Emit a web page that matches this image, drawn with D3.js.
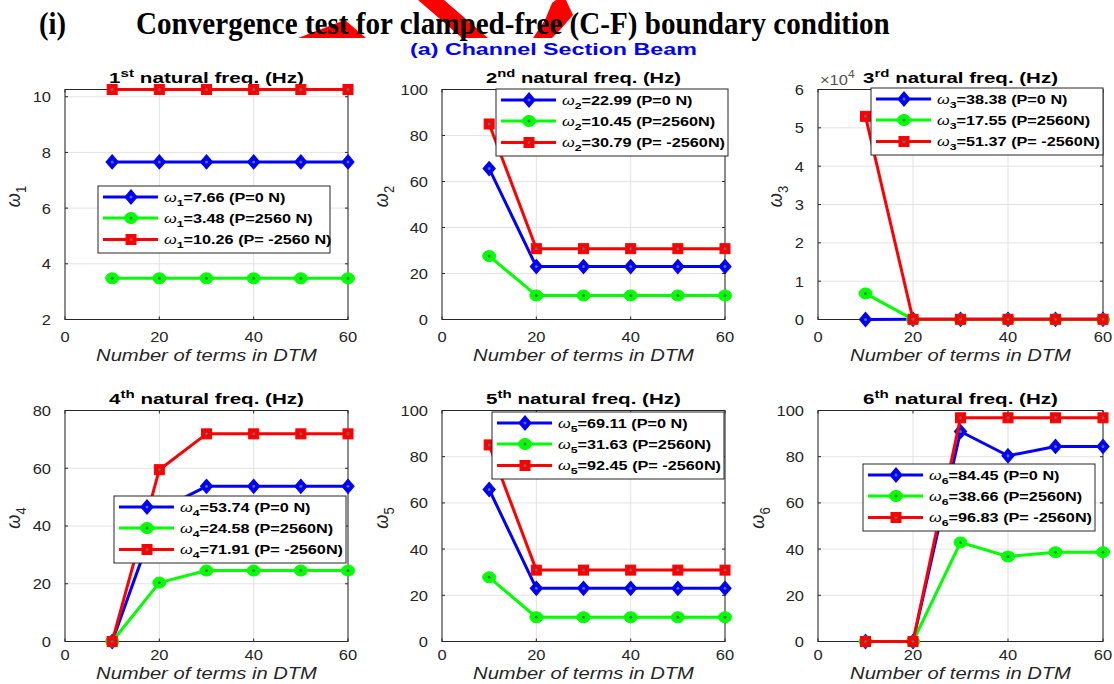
<!DOCTYPE html>
<html>
<head>
<meta charset="utf-8">
<script src="https://cdn.jsdelivr.net/npm/d3@7"></script>
<style>
  body { margin: 0; background: #fff; }
  svg { display: block; }
</style>
</head>
<body>
<svg id="chart" width="1114" height="684"></svg>
<script>
// number of terms used in DTM
var terms = [10, 20, 30, 40, 50, 60];
var xTicks = [0, 20, 40, 60];

// plotted frequencies, P = 0, P = 2560 N (tension), P = -2560 N (compression)
var w1P0 = [7.66, 7.66, 7.66, 7.66, 7.66, 7.66];
var w1Pt = [3.48, 3.48, 3.48, 3.48, 3.48, 3.48];
var w1Pc = [10.26, 10.26, 10.26, 10.26, 10.26, 10.26];

var w2P0 = [65.6, 22.99, 22.99, 22.99, 22.99, 22.99];
var w2Pt = [27.6, 10.45, 10.45, 10.45, 10.45, 10.45];
var w2Pc = [85.0, 30.79, 30.79, 30.79, 30.79, 30.79];

var w3P0 = [0, 38.38, 38.38, 38.38, 38.38, 38.38];
var w3Pt = [6800, 17.55, 17.55, 17.55, 17.55, 17.55];
var w3Pc = [53000, 51.37, 51.37, 51.37, 51.37, 51.37];

var w4P0 = [0, 45.5, 53.74, 53.74, 53.74, 53.74];
var w4Pt = [0, 20.4, 24.58, 24.58, 24.58, 24.58];
var w4Pc = [0, 59.5, 71.91, 71.91, 71.91, 71.91];

var w5P0 = [65.8, 23.0, 23.0, 23.0, 23.0, 23.0];
var w5Pt = [27.8, 10.5, 10.5, 10.5, 10.5, 10.5];
var w5Pc = [85.1, 30.9, 30.9, 30.9, 30.9, 30.9];

var w6P0 = [0, 0, 90.9, 80.4, 84.45, 84.45];
var w6Pt = [0, 0, 42.9, 36.8, 38.66, 38.66];
var w6Pc = [0, 0, 96.83, 96.83, 96.83, 96.83];

// legend values
var legP0 = [7.66, 22.99, 38.38, 53.74, 69.11, 84.45];
var legPt = [3.48, 10.45, 17.55, 24.58, 31.63, 38.66];
var legPc = [10.26, 30.79, 51.37, 71.91, 92.45, 96.83];
var loadTextFirst = ["P=0 N", "P=2560 N", "P= -2560 N"];
var loadText = ["P=0 N", "P=2560N", "P= -2560N"];
var ordinals = ["st", "nd", "rd", "th", "th", "th"];

// y axes
var yDomains = [[2, 10.26], [0, 100], [0, 60000], [0, 80], [0, 100], [0, 100]];
var yTicks = [
  [2, 4, 6, 8, 10],
  [0, 20, 40, 60, 80, 100],
  [0, 10000, 20000, 30000, 40000, 50000, 60000],
  [0, 20, 40, 60, 80],
  [0, 20, 40, 60, 80, 100],
  [0, 20, 40, 60, 80, 100]
];

var seriesP0 = [w1P0, w2P0, w3P0, w4P0, w5P0, w6P0];
var seriesPt = [w1Pt, w2Pt, w3Pt, w4Pt, w5Pt, w6Pt];
var seriesPc = [w1Pc, w2Pc, w3Pc, w4Pc, w5Pc, w6Pc];

// layout
var colLeft = [65, 442, 818], colRight = [348, 725, 1103];
var rowTop = [89.5, 410.5], rowBottom = [319.5, 641.5];
var xTickY = [342, 660], xLabelY = [361, 679];
var legendPos = [[98, 186], [496, 89], [871, 88], [114, 496], [492, 412], [863, 464]];
var legendW = 232, legendH = 67;

var axisColor = "#262626";
var sansFont = "'Liberation Sans', Arial, sans-serif";
var colors = ["#0000ff", "#00ff00", "#ff0000"];

var svg = d3.select("#chart");
svg.append("rect").attr("width", 1114).attr("height", 684).attr("fill", "#fff");

function fitText(parent, x, y, target, anchor, build) {
  var g = parent.append("g");
  var t = g.append("text").attr("text-anchor", anchor);
  build(t);
  var w = t.node().getComputedTextLength();
  g.attr("transform", "translate(" + x + "," + y + ") scale(" + (target / w) + ",1)");
  return t;
}

function stretchText(parent, x, y, sx, anchor) {
  return parent.append("g")
    .attr("transform", "translate(" + x + "," + y + ") scale(" + sx + ",1)")
    .append("text").attr("text-anchor", anchor);
}

function drawMarker(g, kind, cx, cy) {
  if (kind == 0) {
    g.append("path")
      .attr("d", "M" + cx + "," + (cy - 7) + "L" + (cx + 6) + "," + cy + "L" + cx + "," + (cy + 7) + "L" + (cx - 6) + "," + cy + "Z")
      .attr("fill", "#0000ff").attr("stroke", "#0000ff").attr("stroke-width", 1.2);
  } else if (kind == 1) {
    g.append("ellipse").attr("cx", cx).attr("cy", cy).attr("rx", 6.5).attr("ry", 5.5)
      .attr("fill", "#00ff00").attr("stroke", "#00ff00").attr("stroke-width", 1);
  } else {
    g.append("rect").attr("x", cx - 5).attr("y", cy - 5).attr("width", 10).attr("height", 10)
      .attr("fill", "#ff0000").attr("stroke", "#ff0000").attr("stroke-width", 1);
  }
  g.append("circle").attr("cx", cx).attr("cy", cy).attr("r", 1.5).attr("fill", "#5d6f70");
}

// red scribble behind the heading
var scribbles = [
  [[298, 38], [345, 20], [366, 38]],
  [[418, 0], [444, 0], [488, 38], [462, 38]],
  [[533, 38], [545, 20], [552, 3], [556, 0], [566, 0], [573, 15], [560, 30], [552, 38]]
];
svg.selectAll("polygon.scribble").data(scribbles).enter().append("polygon")
  .attr("class", "scribble")
  .attr("points", function(d) { return d.map(function(p) { return p.join(","); }).join(" "); })
  .attr("fill", "#ff0000");

// heading
fitText(svg, 39, 34, 27, "start", function(t) {
  t.attr("font-family", "'Liberation Serif', 'Times New Roman', serif").attr("font-weight", "bold")
    .attr("font-size", 32).attr("fill", "#000").text("(i)");
});
fitText(svg, 136, 34, 754, "start", function(t) {
  t.attr("font-family", "'Liberation Serif', 'Times New Roman', serif").attr("font-weight", "bold")
    .attr("font-size", 32).attr("fill", "#000").text("Convergence test for clamped-free (C-F) boundary condition");
});
fitText(svg, 410, 55, 287, "start", function(t) {
  t.attr("font-family", sansFont).attr("font-weight", "bold")
    .attr("font-size", 16.5).attr("fill", "#0000ff").text("(a) Channel Section Beam");
});

function drawPanel(k) {
  var col = k % 3, row = Math.floor(k / 3);
  var x0 = colLeft[col], x1 = colRight[col];
  var y0 = rowTop[row], y1 = rowBottom[row];
  var cx = (x0 + x1) / 2;

  var x = d3.scaleLinear().domain([0, 60]).range([x0, x1]);
  var y = d3.scaleLinear().domain(yDomains[k]).range([y1, y0]);
  var g = svg.append("g");

  // grid
  g.selectAll("line.gx").data(xTicks).enter().append("line")
    .attr("x1", function(d) { return x(d); }).attr("x2", function(d) { return x(d); })
    .attr("y1", y0).attr("y2", y1)
    .attr("stroke", "#e3e3e3").attr("stroke-width", 1);
  g.selectAll("line.gy").data(yTicks[k]).enter().append("line")
    .attr("y1", function(d) { return y(d); }).attr("y2", function(d) { return y(d); })
    .attr("x1", x0).attr("x2", x1)
    .attr("stroke", "#e3e3e3").attr("stroke-width", 1);

  // box
  g.append("rect").attr("x", x0).attr("y", y0)
    .attr("width", x1 - x0).attr("height", y1 - y0)
    .attr("fill", "none").attr("stroke", axisColor).attr("stroke-width", 1);

  // ticks and labels
  xTicks.forEach(function(v) {
    g.append("line").attr("x1", x(v)).attr("x2", x(v)).attr("y1", y1).attr("y2", y1 - 3).attr("stroke", axisColor);
    g.append("line").attr("x1", x(v)).attr("x2", x(v)).attr("y1", y0).attr("y2", y0 + 3).attr("stroke", axisColor);
    stretchText(g, x(v), xTickY[row], 1.1, "middle")
      .attr("font-family", sansFont).attr("font-size", 15).attr("fill", axisColor).text(v);
  });
  var maxDigits = 0;
  yTicks[k].forEach(function(v) {
    g.append("line").attr("x1", x0).attr("x2", x0 + 3).attr("y1", y(v)).attr("y2", y(v)).attr("stroke", axisColor);
    g.append("line").attr("x1", x1).attr("x2", x1 - 3).attr("y1", y(v)).attr("y2", y(v)).attr("stroke", axisColor);
    var label = k == 2 ? String(v / 10000) : String(v);
    maxDigits = Math.max(maxDigits, label.length);
    stretchText(g, x0 - 14, y(v), 1.1, "end")
      .attr("dy", "0.36em")
      .attr("font-family", sansFont).attr("font-size", 15).attr("fill", axisColor).text(label);
  });

  if (k == 2) {
    var ex = stretchText(g, x0 + 2, y0 - 5, 1.1, "start")
      .attr("font-family", sansFont).attr("font-size", 15).attr("fill", "#555");
    ex.append("tspan").text("\u00d710");
    ex.append("tspan").attr("dy", -7).attr("font-size", 11).text("4");
  }

  // y label
  var yl = g.append("g")
    .attr("transform", "translate(" + (x0 - 14 - maxDigits * 9 - 13) + "," + ((y0 + y1) / 2 - 8) + ") scale(1.1,1) rotate(-90)")
    .append("text").attr("text-anchor", "middle")
    .attr("font-family", sansFont).attr("fill", axisColor);
  yl.append("tspan").attr("font-style", "italic").attr("font-size", 18).text("\u03c9");
  yl.append("tspan").attr("font-size", 13).attr("dy", 5).text(k + 1);

  // x label
  fitText(g, cx, xLabelY[row], 221, "middle", function(t) {
    t.attr("font-family", sansFont).attr("font-style", "italic").attr("font-size", 16)
      .attr("fill", axisColor).text("Number of terms in DTM");
  });

  // title
  fitText(g, cx, y0 - 7, 195, "middle", function(t) {
    t.attr("font-family", sansFont).attr("font-weight", "bold").attr("font-size", 15).attr("fill", "#000");
    t.append("tspan").text(k + 1);
    t.append("tspan").attr("font-size", 11).attr("dy", -6).text(ordinals[k]);
    t.append("tspan").attr("dy", 6).text(" natural freq. (Hz)");
  });

  // series
  var allSeries = [seriesP0[k], seriesPt[k], seriesPc[k]];
  var line = d3.line()
    .x(function(d, i) { return x(terms[i]); })
    .y(function(d) { return y(d); });
  allSeries.forEach(function(vals, s) {
    g.append("path").datum(vals)
      .attr("d", line)
      .attr("fill", "none")
      .attr("stroke", colors[s])
      .attr("stroke-width", 3)
      .attr("stroke-linejoin", "round");
    vals.forEach(function(v, i) {
      drawMarker(g, s, x(terms[i]), y(v));
    });
  });

  // legend
  var lx = legendPos[k][0], ly = legendPos[k][1];
  var lg = svg.append("g");
  lg.append("rect").attr("x", lx).attr("y", ly).attr("width", legendW).attr("height", legendH)
    .attr("fill", "#fff").attr("stroke", axisColor).attr("stroke-width", 1);
  var legVals = [legP0[k], legPt[k], legPc[k]];
  var loads = k == 0 ? loadTextFirst : loadText;
  [11, 32, 53.5].forEach(function(dy, s) {
    var ry = ly + dy;
    lg.append("line").attr("x1", lx + 5).attr("x2", lx + 60).attr("y1", ry).attr("y2", ry)
      .attr("stroke", colors[s]).attr("stroke-width", 3);
    drawMarker(lg, s, lx + 33, ry);
    var t = stretchText(lg, lx + 66, ry + 4.5, 1.3, "start")
      .attr("font-family", sansFont).attr("font-size", 12.5).attr("font-weight", "bold").attr("fill", "#000");
    t.append("tspan").attr("font-style", "italic").attr("font-weight", "normal").text("\u03c9");
    t.append("tspan").attr("font-size", 9.5).attr("dy", 4).text(k + 1);
    t.append("tspan").attr("dy", -4).text("=" + legVals[s].toFixed(2) + " (" + loads[s] + ")");
  });
}

for (var k = 0; k < 6; k++) drawPanel(k);
</script>
</body>
</html>
